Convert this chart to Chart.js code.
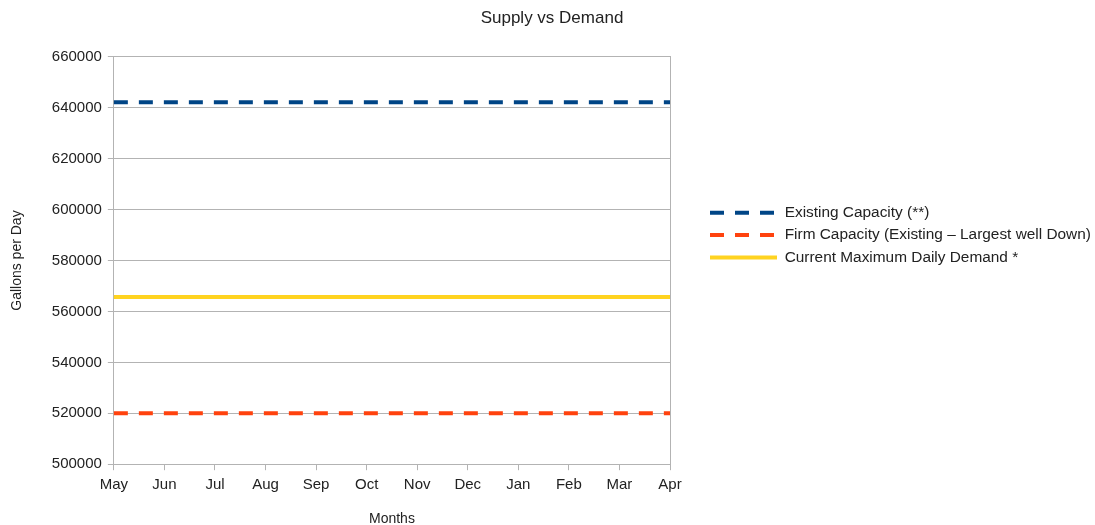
<!DOCTYPE html>
<html>
<head>
<meta charset="utf-8">
<script src="https://cdn.jsdelivr.net/npm/chart.js@4/dist/chart.umd.min.js"></script>
<style>
  html, body { margin: 0; padding: 0; background: #fff; }
  #wrap { width: 1095px; height: 525px; }
</style>
</head>
<body>
<div id="wrap"><canvas id="chart" width="1095" height="525"></canvas></div>
<script>
// Chart data
const months = ['May', 'Jun', 'Jul', 'Aug', 'Sep', 'Oct', 'Nov', 'Dec', 'Jan', 'Feb', 'Mar', 'Apr'];
const existingCapacity = [642200, 642200, 642200, 642200, 642200, 642200, 642200, 642200, 642200, 642200, 642200, 642200];
const firmCapacity = [520000, 520000, 520000, 520000, 520000, 520000, 520000, 520000, 520000, 520000, 520000, 520000];
const maxDailyDemand = [565700, 565700, 565700, 565700, 565700, 565700, 565700, 565700, 565700, 565700, 565700, 565700];

const gridColor = '#b3b3b3';
const textColor = '#222';
const fontFamily = "'Liberation Sans', Arial, sans-serif";

const ctx = document.getElementById('chart').getContext('2d');

new Chart(ctx, {
    type: 'line',
    data: {
        labels: months,
        datasets: [
            {
                label: 'Existing Capacity (**)',
                data: existingCapacity,
                borderColor: '#004586',
                backgroundColor: '#004586',
                borderWidth: 4,
                borderDash: [14, 11],
                pointRadius: 0,
                fill: false
            },
            {
                label: 'Firm Capacity (Existing \u2013 Largest well Down)',
                data: firmCapacity,
                borderColor: '#ff420e',
                backgroundColor: '#ff420e',
                borderWidth: 4,
                borderDash: [14, 11],
                pointRadius: 0,
                fill: false
            },
            {
                label: 'Current Maximum Daily Demand *',
                data: maxDailyDemand,
                borderColor: '#ffd320',
                backgroundColor: '#ffd320',
                borderWidth: 4,
                pointRadius: 0,
                fill: false
            }
        ]
    },
    options: {
        responsive: false,
        animation: false,
        layout: {
            padding: { left: 9, right: 0, top: 2, bottom: -3 }
        },
        plugins: {
            title: {
                display: true,
                text: 'Supply vs Demand',
                color: textColor,
                font: { family: fontFamily, size: 17, weight: 'normal' },
                padding: { top: 6, bottom: 28.5 }
            },
            legend: {
                position: 'right',
                align: 'start',
                // fixed width instead of the default quarter-of-canvas cap
                maxWidth: 392,
                title: {
                    display: true,
                    text: ' ',
                    padding: { top: 178, bottom: 0 },
                    font: { family: fontFamily, size: 15 }
                },
                labels: {
                    usePointStyle: true,
                    pointStyle: 'line',
                    pointStyleWidth: 67,
                    boxHeight: 15,
                    padding: 7,
                    color: textColor,
                    font: { family: fontFamily, size: 15.4 },
                    generateLabels: (chart) => {
                        const items = Chart.defaults.plugins.legend.labels.generateLabels(chart);
                        items.forEach((item) => {
                            const ds = chart.data.datasets[item.datasetIndex];
                            item.lineDash = ds.borderDash || [];
                            item.lineWidth = ds.borderWidth;
                        });
                        return items;
                    }
                }
            },
            tooltip: { enabled: false }
        },
        scales: {
            x: {
                grid: {
                    drawOnChartArea: false,
                    tickColor: gridColor,
                    tickLength: 6
                },
                border: { display: true, color: gridColor },
                ticks: {
                    color: textColor,
                    padding: 6,
                    maxRotation: 0,
                    autoSkip: false,
                    font: { family: fontFamily, size: 15 }
                },
                title: {
                    display: true,
                    text: 'Months',
                    color: textColor,
                    font: { family: fontFamily, size: 14 },
                    padding: { top: 11, bottom: 0 }
                }
            },
            y: {
                min: 500000,
                max: 660000,
                grid: {
                    color: gridColor,
                    tickColor: gridColor,
                    tickLength: 6
                },
                border: { display: true, color: gridColor },
                ticks: {
                    stepSize: 20000,
                    color: textColor,
                    padding: 6,
                    font: { family: fontFamily, size: 15 },
                    callback: (v) => String(v)
                },
                title: {
                    display: true,
                    text: 'Gallons per Day',
                    color: textColor,
                    font: { family: fontFamily, size: 14 },
                    padding: { top: 0, bottom: 20 }
                }
            },
            // empty right axis: draws the plot's right border and leaves the gap before the legend
            yRight: {
                position: 'right',
                afterFit: (scale) => { scale.width = 33; },
                grid: { display: false },
                border: { display: true, color: gridColor },
                ticks: { display: false }
            }
        }
    }
});
</script>
</body>
</html>
